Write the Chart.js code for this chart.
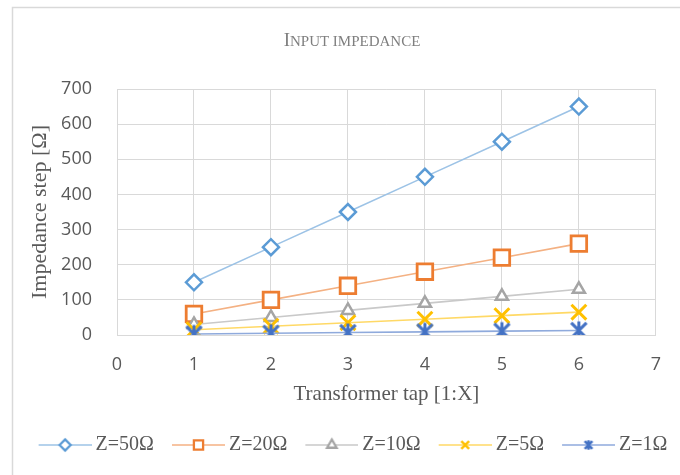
<!DOCTYPE html>
<html>
<head>
<meta charset="utf-8">
<script src="https://cdn.jsdelivr.net/npm/chart.js@4"></script>
<style>
  html, body { margin: 0; padding: 0; background: #fff; }
  #wrap { width: 680px; height: 475px; }
</style>
</head>
<body>
<div id="wrap"><canvas id="c" width="680" height="475"></canvas></div>
<script>
// data
const taps = [1, 2, 3, 4, 5, 6];
const z50 = [150, 250, 350, 450, 550, 650];
const z20 = [60, 100, 140, 180, 220, 260];
const z10 = [30, 50, 70, 90, 110, 130];
const z5 = [15, 25, 35, 45, 55, 65];
const z1 = [3, 5, 7, 9, 11, 13];
const seriesNames = ['Z=50Ω', 'Z=20Ω', 'Z=10Ω', 'Z=5Ω', 'Z=1Ω'];
const xTicks = [0, 1, 2, 3, 4, 5, 6, 7];
const yTicks = [0, 100, 200, 300, 400, 500, 600, 700];
const chartTitle = 'Input impedance';

const serif = "'Liberation Serif', 'DejaVu Serif', serif";
const sans = "'Open Sans', 'Liberation Sans', sans-serif";
const textGray = '#595959';
const gridGray = '#d9d9d9';

// Excel style star: X plus a vertical bar
function makeStar(size, color, lw, k) {
  const c = document.createElement('canvas');
  c.width = size; c.height = size;
  const g = c.getContext('2d');
  const m = size / 2, r = size / 2 - lw / 2;
  const d = r * k;
  g.strokeStyle = color;
  g.lineWidth = lw;
  g.beginPath();
  g.moveTo(m - d, m - d); g.lineTo(m + d, m + d);
  g.moveTo(m + d, m - d); g.lineTo(m - d, m + d);
  g.moveTo(m, m - r); g.lineTo(m, m + r);
  g.stroke();
  return c;
}

const starBig = makeStar(21, '#4472C4', 3, 0.85);
const starSmall = makeStar(12, '#4472C4', 2.5, 0.8);

function pts(arr) {
  return arr.map((v, i) => ({x: taps[i], y: v}));
}

function ds(label, values, line, mark, style, radius, width, order) {
  return {
    label: label,
    data: pts(values),
    borderColor: line,
    borderWidth: 1.6,
    pointStyle: style,
    pointRadius: radius,
    pointHoverRadius: radius,
    pointBorderColor: mark,
    pointBackgroundColor: '#ffffff',
    pointBorderWidth: width,
    markColor: mark,
    order: order,
    fill: false,
    tension: 0
  };
}

const datasets = [
  ds(seriesNames[0], z50, '#9DC3E6', '#5B9BD5', 'rectRot', 8, 2.5, 5),
  ds(seriesNames[1], z20, '#F4B183', '#ED7D31', 'rect', 11, 2.8, 4),
  ds(seriesNames[2], z10, '#C9C9C9', '#A5A5A5', 'triangle', 7, 2.5, 3),
  ds(seriesNames[3], z5, '#FFD966', '#FFC000', 'crossRot', 10.5, 3, 2),
  ds(seriesNames[4], z1, '#8FAADC', '#4472C4', starBig, 9, 3, 1)
];

// legend symbol: line with a small marker in the middle
// box is 63 wide, canvas 75 wide centred on it, so the line ends 4px before the text
const legendBox = 63;
function legendIcon(d) {
  const c = document.createElement('canvas');
  c.width = legendBox + 12; c.height = 16;
  const g = c.getContext('2d');
  const x1 = c.width, x0 = x1 - 53, mx = (x0 + x1) / 2;
  g.strokeStyle = d.borderColor;
  g.lineWidth = 1.6;
  g.beginPath();
  g.moveTo(x0, 8); g.lineTo(x1, 8);
  g.stroke();
  if (d.pointStyle instanceof HTMLCanvasElement) {
    g.drawImage(starSmall, mx - 6, 8 - 6);
  } else {
    g.fillStyle = '#ffffff';
    g.strokeStyle = d.markColor;
    g.lineWidth = 2.3;
    const r = d.pointStyle === 'rect' ? 6.5 : 5.5;
    Chart.helpers.drawPoint(g, {pointStyle: d.pointStyle, radius: r, borderWidth: 2.3, rotation: 0}, mx, 8);
  }
  return c;
}

// light frame round the whole chart, and the small caps title
const framePlugin = {
  id: 'frame',
  beforeDraw(chart) {
    const ctx = chart.ctx;
    ctx.save();
    ctx.strokeStyle = gridGray;
    ctx.lineWidth = 1.5;
    ctx.strokeRect(12.5, 7.5, 680, 500);
    ctx.restore();
  },
  afterDraw(chart) {
    const ctx = chart.ctx;
    const big = '19px ' + serif, small = '15px ' + serif;
    // capitals stay big, lower case becomes small capitals
    const runs = chartTitle.split('').map(ch =>
      [ch.toUpperCase(), (ch !== ' ' && ch === ch.toUpperCase()) ? big : small]);
    ctx.save();
    let total = 0;
    runs.forEach(r => { ctx.font = r[1]; total += ctx.measureText(r[0]).width; });
    let x = 352 - total / 2;
    ctx.fillStyle = '#7f7f7f';
    ctx.textBaseline = 'alphabetic';
    runs.forEach(r => {
      ctx.font = r[1];
      ctx.fillText(r[0], x, 46);
      x += ctx.measureText(r[0]).width;
    });
    ctx.restore();
  }
};

new Chart(document.getElementById('c'), {
  type: 'line',
  data: {datasets: datasets},
  plugins: [framePlugin],
  options: {
    responsive: false,
    animation: false,
    layout: {autoPadding: false, padding: {left: 10, right: 0, top: 89, bottom: 10}},
    plugins: {
      tooltip: {enabled: false},
      title: {display: false},
      legend: {
        position: 'bottom',
        labels: {
          usePointStyle: true,
          pointStyleWidth: legendBox,
          padding: 2,
          color: textGray,
          font: {family: serif, size: 20},
          generateLabels(chart) {
            return chart.data.datasets.map((d, i) => ({
              text: d.label,
              pointStyle: legendIcon(d),
              fontColor: textGray,
              lineWidth: 0,
              hidden: false,
              datasetIndex: i
            }));
          }
        }
      }
    },
    scales: {
      x: {
        type: 'linear',
        min: 0,
        max: 7,
        afterBuildTicks(scale) { scale.ticks = xTicks.map(v => ({value: v})); },
        afterFit(scale) { scale.height = 98; },
        grid: {color: gridGray, drawTicks: false},
        border: {color: gridGray},
        ticks: {color: textGray, font: {family: sans, size: 18}, padding: 19},
        title: {display: true, text: 'Transformer tap [1:X]', color: textGray, font: {family: serif, size: 21}, padding: {top: 0, bottom: 26}}
      },
      y: {
        min: 0,
        max: 700,
        afterBuildTicks(scale) { scale.ticks = yTicks.map(v => ({value: v})); },
        afterFit(scale) { scale.width = 107; },
        grid: {color: gridGray, drawTicks: false},
        border: {color: gridGray},
        ticks: {color: textGray, font: {family: sans, size: 18}, padding: 25},
        title: {display: true, text: 'Impedance step [Ω]', color: textGray, font: {family: serif, size: 22}, padding: {top: 17, bottom: 0}}
      },
      // empty right-hand strip so the plot ends where the reference does
      spacer: {
        position: 'right',
        display: true,
        grid: {display: false},
        border: {display: false},
        ticks: {display: false},
        afterFit(scale) { scale.width = 21; }
      }
    }
  }
});
</script>
</body>
</html>
